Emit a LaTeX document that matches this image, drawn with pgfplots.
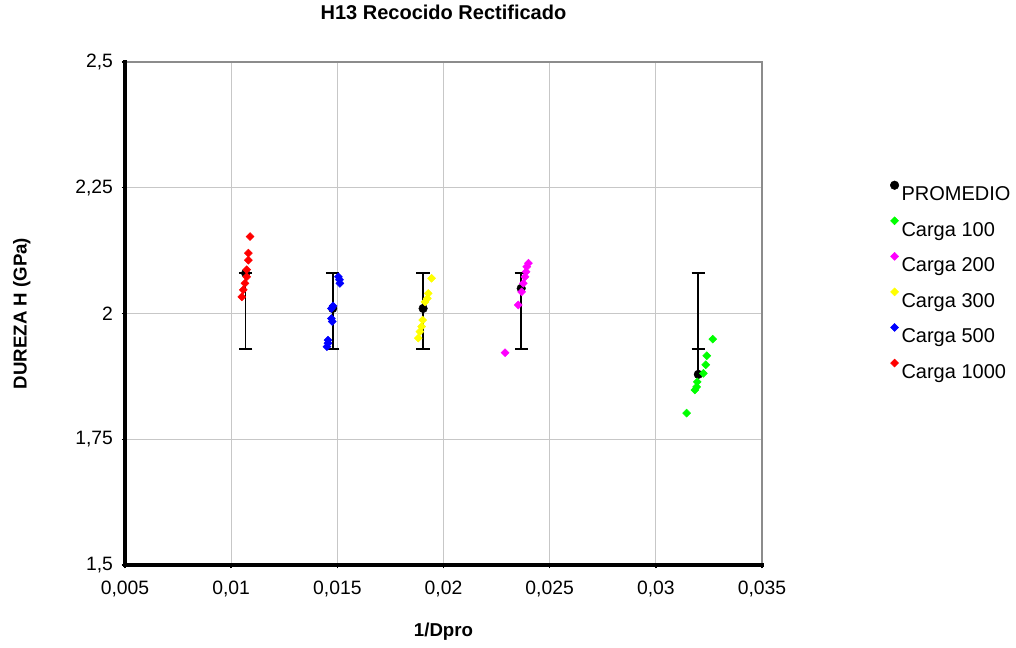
\documentclass[border=0pt]{standalone}
\usepackage{pgfplots}
\pgfplotsset{compat=1.18}
\usepackage{fontspec}
\setmainfont{Liberation Sans}
\definecolor{cgreen}{RGB}{0,255,0}
\definecolor{cmag}{RGB}{255,0,255}
\definecolor{cyel}{RGB}{255,255,0}
\definecolor{cblue}{RGB}{0,0,255}
\definecolor{cred}{RGB}{255,0,0}
\begin{document}
\begin{tikzpicture}
\useasboundingbox (-93.75pt,-62.25pt) rectangle (668.25pt,423.75pt);
\begin{axis}[
  at={(0,0)}, anchor=south west,
  scale only axis,
  width=477.75pt, height=377.25pt,
  xmin=0.005, xmax=0.035, ymin=1.5, ymax=2.5,
  scaled x ticks=false, scaled y ticks=false,
  xtick={0.005,0.01,0.015,0.02,0.025,0.03,0.035},
  xticklabels={{0,005},{0,01},{0,015},{0,02},{0,025},{0,03},{0,035}},
  ytick={1.5,1.75,2,2.25,2.5},
  yticklabels={{1,5},{1,75},{2},{2,25},{2,5}},
  xtick pos=bottom, ytick pos=left,
  tick align=outside, major tick length=2.5pt,
  tick style={black, line width=1pt},
  grid=major,
  major grid style={black!22, line width=0.8pt},
  axis line style={black!45, line width=1.4pt},
  ticklabel style={font=\fontsize{14.5}{16}\selectfont},
  xticklabel style={yshift=-6pt},
  yticklabel style={xshift=-3pt},
  title={\textbf{H13 Recocido Rectificado}},
  title style={at={(axis description cs:0.5,1.0835)}, anchor=center, font=\fontsize{15}{17}\selectfont},
  xlabel={\textbf{1/Dpro}},
  xlabel style={at={(axis description cs:0.5,-0.133)}, anchor=center, font=\fontsize{14}{16}\selectfont},
  ylabel={\textbf{DUREZA H (GPa)}},
  ylabel style={at={(axis description cs:-0.162,0.5)}, anchor=center, font=\fontsize{14}{16}\selectfont},
  legend style={at={(1.201,0.764)}, anchor=north west, draw=none, fill=none,
    font=\fontsize{15}{17}\selectfont, row sep=8.6pt, inner sep=0pt},
  legend cell align=left,
  legend image code/.code={\draw[#1,only marks] plot coordinates {(0.05cm,0.25cm)}; \path (0,0) (0.1cm,0);},
  after end axis/.code={\draw[black,line width=3pt,line cap=rect] (rel axis cs:0,1) -- (rel axis cs:0,0) -- (rel axis cs:1,0);},
]
% PROMEDIO with error bars
\addplot[only marks, mark=*, mark size=3.2pt, black,
  error bars/.cd, y dir=both, y explicit,
  error bar style={black, line width=1.3pt},
  error mark options={black, line width=1.3pt, mark size=5pt, rotate=90}]
  coordinates {
  (0.01068,2.080) += (0,0) -= (0,0.150)
  (0.01478,2.010) += (0,0.070) -= (0,0.080)
  (0.01904,2.010) += (0,0.070) -= (0,0.080)
  (0.02366,2.050) += (0,0.030) -= (0,0.120)
  (0.03200,1.879) += (0,0.201) -= (0,-0.051)
  };
\addlegendentry{PROMEDIO}
% Carga 100
\addplot[only marks, mark=square*, mark size=2.1pt, mark options={rotate=45}, color=cgreen]
  coordinates {
  (0.03268,1.949) (0.03240,1.916) (0.03235,1.898) (0.03224,1.881)
  (0.03195,1.864) (0.03192,1.854) (0.03184,1.848) (0.03145,1.802)
  };
\addlegendentry{Carga 100}
% Carga 200
\addplot[only marks, mark=square*, mark size=2.1pt, mark options={rotate=45}, color=cmag]
  coordinates {
  (0.02400,2.100) (0.02392,2.093) (0.02389,2.083) (0.02384,2.073)
  (0.02376,2.060) (0.02368,2.043) (0.02352,2.017) (0.02290,1.922)
  };
\addlegendentry{Carga 200}
% Carga 300
\addplot[only marks, mark=square*, mark size=2.1pt, mark options={rotate=45}, color=cyel]
  coordinates {
  (0.01944,2.070) (0.01928,2.040) (0.01924,2.030) (0.01913,2.023)
  (0.01902,1.987) (0.01897,1.974) (0.01889,1.964) (0.01881,1.951)
  };
\addlegendentry{Carga 300}
% Carga 500
\addplot[only marks, mark=square*, mark size=2.1pt, mark options={rotate=45}, color=cblue]
  coordinates {
  (0.01505,2.073) (0.01510,2.067) (0.01512,2.060) (0.01480,2.015)
  (0.01472,2.010) (0.01472,1.990) (0.01476,1.984) (0.01456,1.947)
  (0.01456,1.941) (0.01451,1.934)
  };
\addlegendentry{Carga 500}
% Carga 1000
\addplot[only marks, mark=square*, mark size=2.1pt, mark options={rotate=45}, color=cred]
  coordinates {
  (0.01089,2.153) (0.01081,2.120) (0.01081,2.106) (0.01073,2.087)
  (0.01073,2.073) (0.01065,2.060) (0.01057,2.047) (0.01050,2.033)
  };
\addlegendentry{Carga 1000}
\end{axis}
\end{tikzpicture}
\end{document}
